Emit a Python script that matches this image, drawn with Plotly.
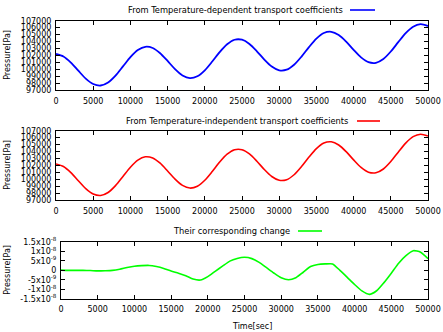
import plotly.graph_objects as go

# ---------------- data ----------------
time_s = [i * 1000 for i in range(51)]

pressure_dep = [102200, 101832, 100950, 99784, 98651, 97863, 97647, 98085, 99079, 100401,
                101738, 102760, 103238, 103066, 102310, 101187, 100014, 99104, 98721, 98981,
                99844, 101107, 102475, 103611, 104251, 104253, 103642, 102590, 101397, 100388,
                99843, 99928, 100642, 101824, 103191, 104424, 105219, 105398, 104939, 103978,
                102792, 101705, 101010, 100921, 101475, 102553, 103903, 105204, 106138, 106494,
                106230]

pressure_indep = [102200, 101832, 100950, 99784, 98651, 97863, 97647, 98085, 99079, 100401,
                  101738, 102760, 103238, 103066, 102310, 101187, 100014, 99104, 98721, 98981,
                  99844, 101107, 102475, 103611, 104251, 104253, 103642, 102590, 101397, 100388,
                  99843, 99928, 100642, 101824, 103191, 104424, 105219, 105398, 104939, 103978,
                  102792, 101705, 101010, 100921, 101475, 102553, 103903, 105204, 106138, 106494,
                  106230]

change_e9 = [0.1, 0.0, 0.0, 0.0, -0.1, -0.3, -0.2, 0.0, 0.6, 1.5,
             2.2, 2.5, 2.6, 2.0, 1.0, -0.4, -1.5, -2.8, -4.6, -5.1,
             -3.3, -0.5, 2.2, 4.9, 6.3, 6.9, 6.2, 4.2, 1.4, -1.4,
             -3.9, -5.0, -3.9, -1.0, 2.0, 3.1, 3.4, 3.4, 0.0, -3.7,
             -7.5, -10.9, -12.7, -10.8, -6.5, -1.5, 3.8, 7.8, 10.4, 9.6,
             6.2]
change = [v * 1e-9 for v in change_e9]

x_ticks = [0, 5000, 10000, 15000, 20000, 25000, 30000, 35000, 40000, 45000, 50000]
p_ticks = [97000, 98000, 99000, 100000, 101000, 102000, 103000, 104000, 105000, 106000, 107000]
c_ticks = [-1.5e-8, -1e-8, -5e-9, 0, 5e-9, 1e-8, 1.5e-8]
c_ticktext = ["-1.5x10<sup>-8</sup>", "-1x10<sup>-8</sup>", "-5x10<sup>-9</sup>", "0",
              "5x10<sup>-9</sup>", "1x10<sup>-8</sup>", "1.5x10<sup>-8</sup>"]

legend_texts = ["From Temperature-dependent transport coefficients",
                "From Temperature-independent transport coefficients",
                "Their corresponding change"]
colors = ["#0000ff", "#ff0000", "#00ff00"]

W, H = 443, 332
FONT = "DejaVu Sans"

def px(x):
    return x / W

def py(y):
    return 1 - y / H

fig = go.Figure()
fig.add_trace(go.Scatter(x=time_s, y=pressure_dep, mode="lines", xaxis="x", yaxis="y",
                         line=dict(color=colors[0], width=1.8, shape="spline", smoothing=0.8)))
fig.add_trace(go.Scatter(x=time_s, y=pressure_indep, mode="lines", xaxis="x2", yaxis="y2",
                         line=dict(color=colors[1], width=1.6, shape="spline", smoothing=0.8)))
fig.add_trace(go.Scatter(x=time_s, y=change, mode="lines", xaxis="x3", yaxis="y3",
                         line=dict(color=colors[2], width=1.6, shape="spline", smoothing=0.6)))

ax_common = dict(showline=True, linecolor="#000", linewidth=1, mirror="ticks",
                 ticks="inside", ticklen=4, tickcolor="#000", showgrid=False, zeroline=False,
                 automargin=False,
                 tickfont=dict(family=FONT, size=8, color="#000"))

panels = [  # (left, right, top, bottom) in pixels
    (56, 428, 20.7, 90),
    (56, 428, 130.7, 200),
    (61, 428, 242, 298.7),
]

layout = dict(width=W, height=H, margin=dict(l=0, r=0, t=0, b=0, pad=0, autoexpand=False),
              paper_bgcolor="white", plot_bgcolor="white", showlegend=False)
for i, (l, r, t, b) in enumerate(panels):
    sx = "" if i == 0 else str(i + 1)
    layout["xaxis" + sx] = dict(domain=[px(l), px(r)], anchor="y" + sx, range=[0, 50000],
                                tickvals=x_ticks, tickformat="d", ticklabelstandoff=3,
                                **ax_common)
    if i < 2:
        ydict = dict(range=[97000, 107000], tickvals=p_ticks, tickformat="d")
    else:
        ydict = dict(range=[-1.5e-8, 1.5e-8], tickvals=c_ticks, ticktext=c_ticktext)
    layout["yaxis" + sx] = dict(domain=[py(b), py(t)], anchor="x" + sx,
                                ticklabelstandoff=2, **ydict, **ax_common)
fig.update_layout(**layout)

# legend-like keys (text then sample line) and axis titles
keys = [(345, 10, 350, 375), (350, 121, 357, 380), (292, 231, 298, 322)]
for i, (tx, ty, l0, l1) in enumerate(keys):
    fig.add_annotation(x=px(tx), y=py(ty), xref="paper", yref="paper", text=legend_texts[i],
                       showarrow=False, xanchor="right", yanchor="middle",
                       font=dict(family=FONT, size=8.3, color="#000"))
    fig.add_shape(type="line", xref="paper", yref="paper", x0=px(l0), x1=px(l1),
                  y0=py(ty), y1=py(ty), line=dict(color=colors[i], width=1.6))

for (l, r, t, b) in panels:
    fig.add_annotation(x=px(7.5), y=py((t + b) / 2), xref="paper", yref="paper",
                       text="Pressure[Pa]", textangle=-90, showarrow=False,
                       xanchor="center", yanchor="middle",
                       font=dict(family=FONT, size=8, color="#000"))

fig.add_annotation(x=px(252), y=py(326), xref="paper", yref="paper", text="Time[sec]",
                   showarrow=False, xanchor="center", yanchor="middle",
                   font=dict(family=FONT, size=8, color="#000"))

fig.write_html("out.html",
               config={"displayModeBar": False, "staticPlot": True},
               post_script="document.body.style.margin='0';document.body.style.overflow='hidden';")
